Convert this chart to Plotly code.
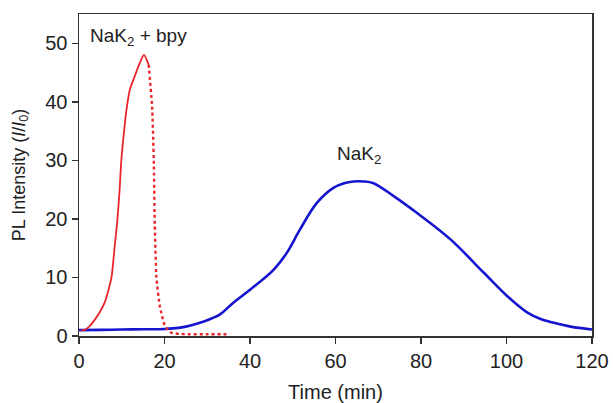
import plotly.graph_objects as go

# Red: NaK2 + bpy (solid rising part, dashed falling part)
red_rise_t = [0.5, 1.5, 2.5, 3.7, 4.8, 6.0, 6.8, 7.6, 8.35, 9.0, 9.5, 9.9, 10.5, 11.1, 11.9, 13.0, 14.2, 15.2, 16.3]
red_rise_v = [0.9, 1.1, 1.7, 2.8, 4.0, 5.7, 7.6, 10.0, 15.3, 20.0, 25.0, 30.0, 34.7, 38.6, 42.1, 44.3, 46.6, 48.0, 46.3]
red_fall_t = [16.3, 16.4, 17.1, 17.5, 17.7, 18.1, 18.9, 20.1, 21.6, 23.5, 26.0, 30.0, 35.3]
red_fall_v = [46.3, 45.5, 39.2, 30.0, 20.0, 10.0, 5.1, 1.7, 0.55, 0.35, 0.3, 0.3, 0.3]

# Blue: NaK2
blue_t = [0, 5, 10, 15, 20, 22, 25, 28.3, 31, 33, 36.1, 40, 45.5, 48.6, 51.7, 55.6, 59.5, 62, 64.2, 66.5, 68.9, 73.6, 79.1, 86.9, 94.7, 100.2, 104.9, 108, 111.1, 115, 120]
blue_v = [1.0, 1.05, 1.1, 1.15, 1.2, 1.3, 1.6, 2.25, 3.0, 3.7, 5.7, 7.9, 11.3, 14.2, 18.2, 22.7, 25.3, 26.1, 26.4, 26.4, 26.1, 23.9, 21.0, 16.5, 10.8, 6.8, 4.0, 2.9, 2.25, 1.6, 1.1]

x_ticks = [0, 20, 40, 60, 80, 100, 120]
y_ticks = [0, 10, 20, 30, 40, 50]

FONT = "Liberation Sans, Arial, sans-serif"
AX = "#333333"
TXT = "#222222"

fig = go.Figure()
fig.add_trace(go.Scatter(x=blue_t, y=blue_v, mode="lines",
                         line=dict(color="#1515d0", width=2.6, shape="spline", smoothing=1.0),
                         showlegend=False, hoverinfo="skip"))
fig.add_trace(go.Scatter(x=red_fall_t, y=red_fall_v, mode="lines",
                         line=dict(color="#e8262b", width=2.4, dash="3px,3px", shape="spline", smoothing=0.4),
                         showlegend=False, hoverinfo="skip"))
fig.add_trace(go.Scatter(x=red_rise_t, y=red_rise_v, mode="lines",
                         line=dict(color="#e8262b", width=1.8, shape="spline", smoothing=0.7),
                         showlegend=False, hoverinfo="skip"))

fig.add_annotation(x=2.0, y=51.1, xref="x", yref="y", text="NaK<sub>2</sub> + bpy",
                   showarrow=False, xanchor="left", yanchor="middle",
                   font=dict(family=FONT, size=19, color=TXT))
fig.add_annotation(x=65.5, y=31.0, xref="x", yref="y", text="NaK<sub>2</sub>",
                   showarrow=False, xanchor="center", yanchor="middle",
                   font=dict(family=FONT, size=19, color=TXT))

fig.update_layout(
    width=613, height=403,
    margin=dict(l=79, r=21, t=14, b=67),
    paper_bgcolor="white", plot_bgcolor="white",
    font=dict(family=FONT, size=20, color=TXT),
)
fig.update_xaxes(range=[0, 120], tickvals=x_ticks, ticks="outside", ticklen=6, tickwidth=1.5,
                 tickcolor=AX, showline=True, linecolor=AX, linewidth=1.5, mirror=True,
                 showgrid=False, zeroline=False, automargin=False,
                 tickfont=dict(size=20),
                 title=dict(text="Time (min)", font=dict(size=20)))
fig.update_yaxes(range=[0, 55], tickvals=y_ticks, ticks="outside", ticklen=6, tickwidth=1.5,
                 tickcolor=AX, showline=True, linecolor=AX, linewidth=1.5, mirror=True,
                 showgrid=False, zeroline=False, automargin=False,
                 tickfont=dict(size=20),
                 title=dict(text="PL Intensity (<i>I</i>/<i>I</i><sub>0</sub>)", font=dict(size=18)))

fig.write_html("out.html", config={"displayModeBar": False, "staticPlot": True},
               post_script="document.body.style.margin='0';document.body.style.overflow='hidden';")
